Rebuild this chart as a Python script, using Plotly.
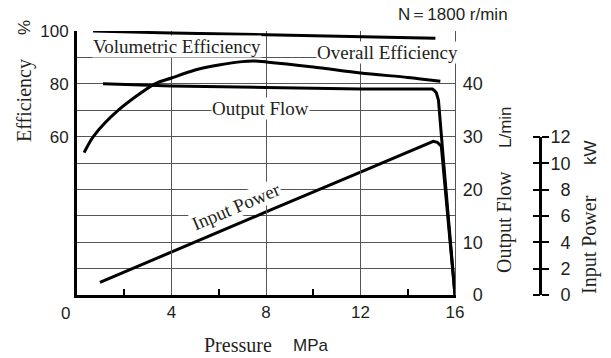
import plotly.graph_objects as go

W, H = 611, 358

# ---------------- data ----------------
pressure_tickvals = [0, 4, 8, 12, 16]
pressure_ticklabels = ["0", "4", "8", "12", "16"]
pressure_minor = [2, 6, 10, 14]

eff_tickvals = [0, 10, 20, 30, 40, 50, 60, 70, 80, 90, 100]
eff_ticklabels = ["", "", "", "", "", "", "60", "", "80", "", "100"]

flow_tickvals = [0, 10, 20, 30, 40]
flow_ticklabels = ["0", "10", "20", "30", "40"]

power_tickvals = [0, 2, 4, 6, 8, 10, 12]
power_ticklabels = ["0", "2", "4", "6", "8", "10", "12"]

vol_p = [0.68, 4, 8, 12, 15.17]
vol_eff = [100, 99.2, 98.6, 97.9, 97.3]

overall_p = [0.3, 0.69, 1.75, 3.3, 4, 5, 6, 7, 7.5, 8, 10, 12, 14, 15.38]
overall_eff = [53.9, 60, 70, 80, 82.2, 85.2, 87.1, 88.4, 88.6, 88.3, 86.4, 84.1, 82.4, 81.0]

flow_p = [1.1, 4, 8, 12, 15.04, 15.11, 15.21, 15.30, 15.51, 16.0]
flow_lpm = [40.0, 39.6, 39.3, 39.0, 39.0, 38.8, 38.3, 36.9, 25.6, 0]

power_p = [0.97, 4, 8, 12, 15.08, 15.25, 15.42, 16.0]
power_kw = [0.96, 3.28, 6.31, 9.34, 11.67, 11.6, 11.3, 0]

# ---------------- layout geometry ----------------
PX_L, PX_R, PX_T, PX_B = 77, 455, 31, 295
PWR_X, PWR_T = 540, 137


def fx(px):
    return px / W


def fy(py):
    return 1 - py / H


SANS = "Liberation Sans, Arial, sans-serif"
SERIF = "Liberation Serif, Times New Roman, serif"
INK = "#231f20"
GRID = "#555555"

fig = go.Figure()

line = dict(color="black", width=3)
fig.add_trace(go.Scatter(x=vol_p, y=vol_eff, mode="lines", line=line,
                         xaxis="x", yaxis="y", showlegend=False, hoverinfo="skip"))
fig.add_trace(go.Scatter(x=overall_p, y=overall_eff, mode="lines",
                         line=dict(color="black", width=3, shape="spline", smoothing=0.8),
                         xaxis="x", yaxis="y", showlegend=False, hoverinfo="skip"))
fig.add_trace(go.Scatter(x=flow_p, y=flow_lpm, mode="lines", line=line,
                         xaxis="x", yaxis="y2", showlegend=False, hoverinfo="skip"))
fig.add_trace(go.Scatter(x=power_p, y=power_kw, mode="lines", line=line,
                         xaxis="x", yaxis="y3", showlegend=False, hoverinfo="skip"))
fig.add_trace(go.Scatter(x=[None], y=[None], mode="lines", xaxis="x", yaxis="y4",
                         showlegend=False, hoverinfo="skip"))


def pad(lbls):
    n = max(len(s) for s in lbls)
    return ["\u2007" * (n - len(s)) + s for s in lbls]


tickfont = dict(family=SANS, size=17, color=INK)
tickfont_r = dict(family=SANS, size=18, color=INK)

fig.update_layout(
    width=W, height=H,
    margin=dict(l=0, r=0, t=0, b=0, autoexpand=False),
    paper_bgcolor="white",
    plot_bgcolor="rgba(0,0,0,0)",
    xaxis=dict(
        domain=[fx(PX_L), fx(PX_R)], range=[0, 16],
        tickmode="array", tickvals=pressure_tickvals,
        ticktext=[""] + pressure_ticklabels[1:],
        ticks="", showgrid=True, gridcolor=GRID, gridwidth=1,
        showline=True, linecolor="black", linewidth=3,
        zeroline=False, tickfont=tickfont, anchor="y",
        ticklabelstandoff=0,
        minor=dict(tickmode="array", tickvals=pressure_minor, ticks="inside",
                   ticklen=6, tickwidth=1.5, tickcolor="black", showgrid=False),
    ),
    yaxis=dict(
        domain=[fy(PX_B), fy(PX_T)], range=[0, 100],
        tickmode="array", tickvals=eff_tickvals, ticktext=eff_ticklabels,
        ticks="", showgrid=True, gridcolor=GRID, gridwidth=1,
        showline=True, linecolor="black", linewidth=3,
        zeroline=False, tickfont=tickfont, anchor="x",
        ticklabelstandoff=2,
    ),
    yaxis2=dict(
        overlaying="y", side="right", range=[0, 50], anchor="x",
        tickmode="array", tickvals=flow_tickvals, ticktext=pad(flow_ticklabels),
        ticks="", showgrid=False, zeroline=False,
        showline=True, linecolor=GRID, linewidth=1.2,
        tickfont=tickfont_r, ticklabelstandoff=3,
    ),
    yaxis3=dict(
        anchor="free", position=fx(PWR_X), side="right",
        domain=[fy(PX_B), fy(PWR_T)], range=[0, 12],
        tickmode="array", tickvals=power_tickvals, ticktext=pad(power_ticklabels),
        ticks="outside", ticklen=7, tickwidth=1.5, tickcolor="black",
        showgrid=False, zeroline=False,
        showline=True, linecolor="black", linewidth=3,
        tickfont=tickfont_r, ticklabelstandoff=-2,
    ),
    yaxis4=dict(
        anchor="free", position=fx(PWR_X), side="left",
        domain=[fy(PX_B), fy(PWR_T)], range=[0, 12],
        tickmode="array", tickvals=power_tickvals,
        ticks="outside", ticklen=7, tickwidth=1.5, tickcolor="black",
        showticklabels=False, showgrid=False, zeroline=False,
        showline=False,
    ),
)

ann = []
lab_font = dict(family=SERIF, size=19, color=INK)


def data_label(text, x, y, angle=0):
    ann.append(dict(text=text, x=x, y=y, xref="x", yref="y", showarrow=False,
                    font=lab_font, bgcolor="white", borderpad=0, textangle=angle,
                    xanchor="center", yanchor="middle"))


def paper_label(text, px, py, font, angle=0):
    ann.append(dict(text=text, x=fx(px), y=fy(py), xref="paper", yref="paper",
                    showarrow=False, font=font, textangle=angle,
                    xanchor="center", yanchor="middle"))


data_label("Volumetric Efficiency", 4.23, 94.1)
data_label("Overall Efficiency", 13.16, 92.0)
data_label("Output Flow", 7.77, 70.8)
data_label("Input Power", 6.73, 33.7, -23)

# x tick label "0" (offset left of the axis)
paper_label(pressure_ticklabels[0], 65, 313, tickfont)

title_serif = dict(family=SERIF, size=20, color=INK)
title_sans = dict(family=SANS, size=17, color=INK)
paper_label("Pressure", 238, 345, title_serif)
paper_label("MPa", 311, 345, title_sans)
paper_label("Efficiency", 24, 101, title_serif, -90)
paper_label("%", 24, 28, title_sans, -90)
paper_label("Output Flow", 505, 222, title_serif, -90)
paper_label("L/min", 505, 127, title_sans, -90)
paper_label("Input Power", 589, 245, title_serif, -90)
paper_label("kW", 590, 153, title_sans, -90)
paper_label("N\uFF1D1800 r/min", 453, 14, dict(family=SANS, size=17, color=INK))

fig.update_layout(annotations=ann)

fig.write_html("out.html", config={"displayModeBar": False},
               post_script="document.body.style.margin='0px';")
